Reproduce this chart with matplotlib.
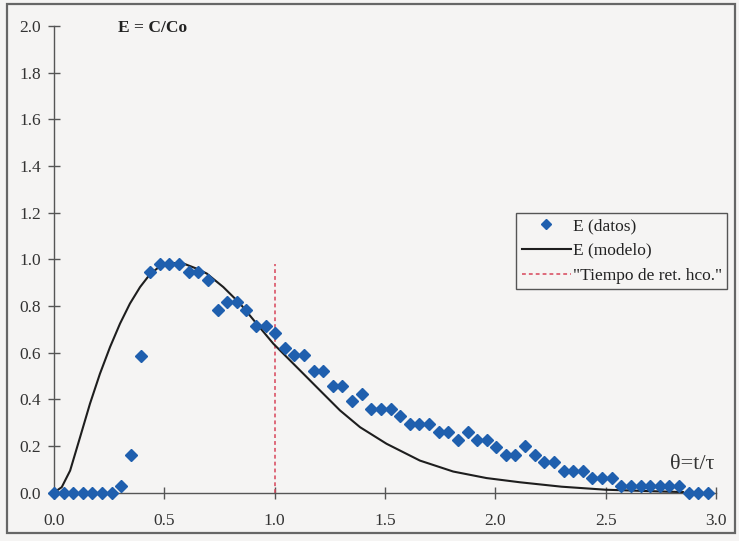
import matplotlib
matplotlib.use("Agg")
import matplotlib.pyplot as plt
from matplotlib.patches import Rectangle
from matplotlib.lines import Line2D

plt.rcParams['font.family'] = ['Liberation Serif', 'DejaVu Serif']

# Dimensionless time theta = t/tau of each sample
theta = [0.000, 0.044, 0.087, 0.131, 0.174, 0.218, 0.261, 0.305, 0.349, 0.392,
         0.436, 0.479, 0.523, 0.566, 0.610, 0.654, 0.697, 0.741, 0.784, 0.828,
         0.871, 0.915, 0.959, 1.002, 1.046, 1.089, 1.133, 1.176, 1.220, 1.264,
         1.307, 1.351, 1.394, 1.438, 1.481, 1.525, 1.569, 1.612, 1.656, 1.699,
         1.743, 1.786, 1.830, 1.874, 1.917, 1.961, 2.004, 2.048, 2.091, 2.135,
         2.179, 2.222, 2.266, 2.309, 2.353, 2.396, 2.440, 2.484, 2.527, 2.571,
         2.614, 2.658, 2.701, 2.745, 2.789, 2.832, 2.876, 2.919, 2.963]

# Measured E = C/Co
e_datos = [0.000, 0.000, 0.000, 0.000, 0.000, 0.000, 0.000, 0.027, 0.162, 0.585,
           0.944, 0.979, 0.979, 0.979, 0.944, 0.944, 0.913, 0.784, 0.815, 0.815,
           0.784, 0.715, 0.715, 0.684, 0.621, 0.588, 0.588, 0.522, 0.522, 0.458,
           0.458, 0.391, 0.424, 0.359, 0.359, 0.359, 0.326, 0.292, 0.292, 0.292,
           0.259, 0.259, 0.226, 0.260, 0.226, 0.226, 0.194, 0.161, 0.161, 0.198,
           0.163, 0.130, 0.130, 0.094, 0.094, 0.094, 0.062, 0.062, 0.062, 0.028,
           0.028, 0.028, 0.028, 0.028, 0.028, 0.028, 0.000, 0.000, 0.000]

# Model curve E(theta)
theta_modelo = [0.000, 0.035, 0.073, 0.118, 0.163, 0.208, 0.254, 0.299, 0.344, 0.390,
                0.435, 0.480, 0.541, 0.586, 0.646, 0.692, 0.767, 0.843, 0.918, 0.994,
                1.069, 1.145, 1.205, 1.296, 1.387, 1.507, 1.658, 1.809, 1.960, 2.111,
                2.300, 2.500, 2.700, 2.850]
e_modelo = [0.000, 0.023, 0.094, 0.237, 0.381, 0.509, 0.624, 0.724, 0.810, 0.881,
            0.936, 0.970, 0.984, 0.982, 0.960, 0.939, 0.881, 0.810, 0.724, 0.638,
            0.567, 0.495, 0.438, 0.352, 0.280, 0.209, 0.137, 0.090, 0.062, 0.044,
            0.025, 0.012, 0.006, 0.002]

# Hydraulic retention time marker
t_ret = 1.0
t_ret_top = 0.98

x_ticks = [0.0, 0.5, 1.0, 1.5, 2.0, 2.5, 3.0]
y_ticks = [0.0, 0.2, 0.4, 0.6, 0.8, 1.0, 1.2, 1.4, 1.6, 1.8, 2.0]

bg = '#f5f4f3'
axis_col = '#555555'
blue = '#1f5fae'
red = '#d8455a'

fig = plt.figure(figsize=(7.39, 5.41), dpi=100, facecolor=bg)
ax = fig.add_axes([0.0731, 0.0896, 0.8958, 0.8623])
ax.set_facecolor(bg)

ax.plot(theta_modelo, e_modelo, color='#1e1e1e', lw=1.5, zorder=3,
        solid_joinstyle='round')
ax.plot(theta, e_datos, ls='none', marker='D', ms=5.8, color=blue,
        mec=blue, zorder=4, clip_on=False)
ax.plot([t_ret, t_ret], [0, t_ret_top], color=red, lw=1.1,
        ls=(0, (2.5, 2.0)), zorder=2)

ax.set_xlim(0, 3.0)
ax.set_ylim(0, 2.0)
ax.set_xticks(x_ticks)
ax.set_xticklabels([f'{v:.1f}' for v in x_ticks])
ax.set_yticks(y_ticks)
ax.set_yticklabels([f'{v:.1f}' for v in y_ticks])

for s in ('top', 'right'):
    ax.spines[s].set_visible(False)
for s in ('left', 'bottom'):
    ax.spines[s].set_color(axis_col)
    ax.spines[s].set_linewidth(1.0)

ax.tick_params(axis='x', direction='inout', length=9, width=1.0,
               color=axis_col, pad=10, labelsize=12.5, labelcolor='#333333')
ax.tick_params(axis='y', direction='inout', length=9, width=1.0,
               color=axis_col, pad=5, labelsize=12.5, labelcolor='#333333')

ax.text(0.29, 1.99, 'E = C/Co', fontsize=12.5, fontweight='bold',
        ha='left', va='center', color='#222222')
ax.text(2.79, 0.12, 'θ=t/τ', fontsize=16, ha='left', va='center',
        color='#333333')

handles = [
    Line2D([], [], ls='none', marker='D', ms=5.5, color=blue),
    Line2D([], [], color='#1e1e1e', lw=1.5),
    Line2D([], [], color=red, lw=1.1, ls=(0, (2.5, 2.0))),
]
labels = ['E (datos)', 'E (modelo)', '"Tiempo de ret. hco."']
leg = ax.legend(handles, labels, loc='upper left',
                bbox_to_anchor=(0.6985, 0.600), fontsize=12.5,
                frameon=True, fancybox=False, framealpha=1,
                facecolor=bg, edgecolor='#555555', borderpad=0.3,
                handlelength=2.85, handletextpad=0.1, labelspacing=0.5,
                borderaxespad=0)
leg.get_frame().set_linewidth(1.0)
for t in leg.get_texts():
    t.set_color('#222222')

# Outer frame around the whole chart
fig.patches.append(Rectangle((0.0095, 0.0148), 0.985, 0.978,
                             transform=fig.transFigure, fill=False,
                             edgecolor='#666666', lw=1.6))

fig.savefig('out.png', dpi=100, facecolor=bg)
